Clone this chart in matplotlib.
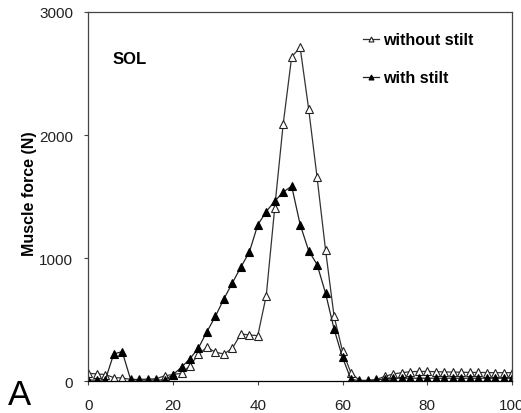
import numpy as np
import matplotlib
matplotlib.use("Agg")
import matplotlib.pyplot as plt

plt.rcParams['font.family'] = ['Liberation Sans', 'DejaVu Sans']

# gait cycle (%) sampled every 2 %
cycle = np.arange(0, 101, 2)

without_stilt = [65, 60, 55, 30, 27, 15, 15, 18, 20, 45,
                 55, 65, 127, 219, 276, 236, 222, 268, 385, 376,
                 371, 696, 1410, 2090, 2636, 2712, 2214, 1656, 1065, 530,
                 245, 68, 8, 8, 15, 40, 60, 70, 78, 80,
                 80, 78, 76, 75, 74, 72, 72, 71, 70, 70, 70]
with_stilt = [10, 10, 10, 222, 241, 13, 10, 10, 10, 10,
              54, 114, 184, 271, 403, 528, 669, 799, 927, 1049,
              1271, 1379, 1463, 1537, 1585, 1273, 1062, 948, 715, 425,
              194, 15, 5, 5, 10, 20, 25, 25, 25, 25,
              25, 25, 25, 25, 25, 25, 25, 25, 25, 25, 25]

fig = plt.figure(figsize=(5.21, 4.14), dpi=100)
ax = fig.add_axes([0.1695, 0.0766, 0.8132, 0.892])

ax.plot(cycle, without_stilt, color='#333333', lw=0.9, marker='^', ms=5.5,
        mfc='white', mec='#222222', mew=0.8, label='without stilt')
ax.plot(cycle, with_stilt, color='#222222', lw=0.9, marker='^', ms=5.5,
        mfc='black', mec='black', mew=0.8, label='with stilt')

ax.set_xlim(0, 100)
ax.set_ylim(0, 3000)
ax.set_xticks([0, 20, 40, 60, 80, 100])
ax.set_yticks([0, 1000, 2000, 3000])
ax.tick_params(axis='both', length=3, width=0.8, color='#444444',
               labelsize=11, labelcolor='#222222')
ax.tick_params(axis='y', pad=8)
ax.tick_params(axis='x', pad=9)
for s in ax.spines.values():
    s.set_color('#444444')
    s.set_linewidth(0.9)
ax.spines['bottom'].set_color('black')

ax.set_ylabel('Muscle force (N)', fontsize=11.5, fontweight='bold')
ax.yaxis.set_label_coords(-0.12, 0.51)
ax.text(0.058, 0.873, 'SOL', transform=ax.transAxes, fontsize=12,
        fontweight='bold', va='center')

leg = ax.legend(loc='upper left', bbox_to_anchor=(0.648, 0.945), frameon=False,
                prop={'size': 11.5, 'weight': 'bold'},
                handlelength=1.0, handletextpad=0.25, labelspacing=1.45,
                borderpad=0, borderaxespad=0, markerscale=0.65)

fig.text(0.015, 0.022, 'A', fontsize=25, va='baseline')

fig.savefig('out.png', dpi=100)
